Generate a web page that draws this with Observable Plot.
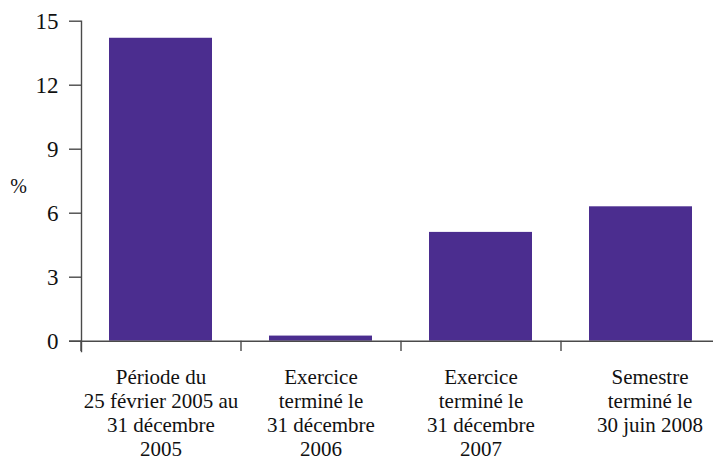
<!DOCTYPE html>
<html>
<head>
<meta charset="utf-8">
<script src="https://cdn.jsdelivr.net/npm/d3@7"></script>
<script src="https://cdn.jsdelivr.net/npm/@observablehq/plot@0.6"></script>
<style>
  html, body { margin: 0; padding: 0; background: #fff; }
  #chart { width: 713px; height: 461px; }
  #chart svg, #chart svg text { font-family: "Liberation Serif", "Times New Roman", serif !important; }
</style>
</head>
<body>
<div id="chart"></div>
<script>
const categories = [
  "Période du\n25 février 2005 au\n31 décembre\n2005",
  "Exercice\nterminé le\n31 décembre\n2006",
  "Exercice\nterminé le\n31 décembre\n2007",
  "Semestre\nterminé le\n30 juin 2008"
];
const values = [14.2, 0.24, 5.1, 6.3];
const yTicks = [0, 3, 6, 9, 12, 15];
const yLabel = "%";

const data = categories.map((c, i) => ({cat: c, value: values[i]}));

const serif = "Liberation Serif";
const axisColor = "#4a4a4a";
const labelOpts = {tickSize: 0, tickPadding: 16, fontSize: 21, fontFamily: serif, lineHeight: 1.13, label: null};
const chart = Plot.plot({
  width: 713,
  height: 461,
  marginLeft: 81,
  marginRight: 0,
  marginTop: 20.7,
  marginBottom: 110,
  style: {fontFamily: serif, color: "#111", background: "#fff"},
  x: {type: "band", domain: categories, paddingInner: 0.356, paddingOuter: 0.178, insetRight: -8},
  y: {domain: [0, 15], insetBottom: 10.3},
  marks: [
    Plot.barY(data, {x: "cat", y: "value", fill: "#4B2D8F"}),
    Plot.ruleY([0], {insetLeft: -12, stroke: axisColor, strokeWidth: 1.4}),
    Plot.ruleX(categories, {x: d => d, y1: 0, y2: 0, insetBottom: -10.3, dx: -80, stroke: axisColor, strokeWidth: 1.4}),
    Plot.frame({anchor: "left", stroke: axisColor, strokeWidth: 1.4}),
    Plot.axisY({ticks: yTicks, tickSize: 12, tickPadding: 11, fontSize: 23, fontFamily: serif, label: null, stroke: axisColor, strokeWidth: 1.4}),
    Plot.axisX(categories.slice(0, 3), labelOpts),
    Plot.axisX(categories.slice(3), {...labelOpts, dx: 9}),
    Plot.text([yLabel], {frameAnchor: "left", dx: -63, fontSize: 20, fontFamily: serif, textAnchor: "middle"})
  ]
});
document.getElementById("chart").appendChild(chart);
</script>
</body>
</html>
